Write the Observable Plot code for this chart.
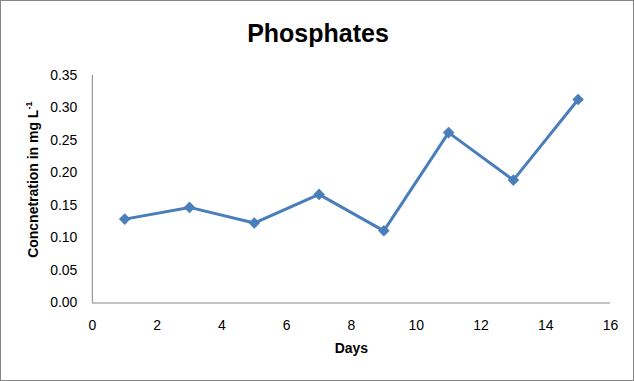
<!DOCTYPE html>
<html>
<head>
<meta charset="utf-8">
<script src="https://cdn.jsdelivr.net/npm/d3@7"></script>
<script src="https://cdn.jsdelivr.net/npm/@observablehq/plot@0.6"></script>
<style>
  html, body { margin: 0; padding: 0; background: #fff; }
  #wrap { position: relative; width: 634px; height: 381px; box-sizing: border-box; border: 1px solid #868686; overflow: hidden; }
  #title { position: absolute; left: 0; width: 634px; top: 17px; text-align: center; font: bold 25px "Liberation Sans", Arial, sans-serif; color: #000; line-height: 30px; }
  #chart { position: absolute; left: -1px; top: -1px; }
</style>
</head>
<body>
<div id="wrap">
  <div id="chart"></div>
  <div id="title">Phosphates</div>
</div>
<script>
const days = [1, 3, 5, 7, 9, 11, 13, 15];
const phosphates = [0.129, 0.147, 0.123, 0.167, 0.111, 0.262, 0.189, 0.313];
const xTicks = [0, 2, 4, 6, 8, 10, 12, 14, 16];
const yTicks = [0, 0.05, 0.10, 0.15, 0.20, 0.25, 0.30, 0.35];
const titleText = "Phosphates";
const xLabel = "Days";
const yLabelMain = "Concnetration in mg L";
const yLabelSup = "-1";

const data = days.map((d, i) => ({day: d, value: phosphates[i]}));
const blue = "#4A7EBB";
const grey = "#868686";

const chart = Plot.plot({
  width: 634,
  height: 381,
  marginLeft: 92,
  marginRight: 23,
  marginTop: 75,
  marginBottom: 78,
  style: {fontFamily: "'Liberation Sans', Arial, sans-serif", fontSize: "14px", color: "#000", background: "transparent"},
  x: {domain: [0, 16], ticks: xTicks, tickSize: 0, tickPadding: 17, label: null},
  y: {domain: [0, 0.35], ticks: yTicks, tickSize: 0, tickPadding: 15, tickFormat: d3.format(".2f"), label: null},
  marks: [
    Plot.ruleY([0], {stroke: grey, strokeWidth: 1}),
    Plot.ruleX([0], {stroke: grey, strokeWidth: 1}),
    Plot.line(data, {x: "day", y: "value", stroke: blue, strokeWidth: 3}),
    Plot.dot(data, {x: "day", y: "value", symbol: "diamond2", r: 5, fill: blue, stroke: blue, strokeWidth: 0.5}),
    Plot.text([xLabel], {frameAnchor: "bottom", dy: 50, fontWeight: "bold", fontSize: 14, fill: "#000"})
  ]
});
document.getElementById("chart").appendChild(chart);

// y-axis label with superscript
const svg = d3.select(chart);
const t = svg.append("text")
  .attr("transform", "translate(38,180) rotate(-90)")
  .attr("text-anchor", "middle")
  .attr("font-weight", "bold")
  .attr("font-size", 14)
  .attr("fill", "#000");
t.append("tspan").text(yLabelMain);
t.append("tspan").attr("font-size", 9).attr("dy", -6).text(yLabelSup);
</script>
</body>
</html>
